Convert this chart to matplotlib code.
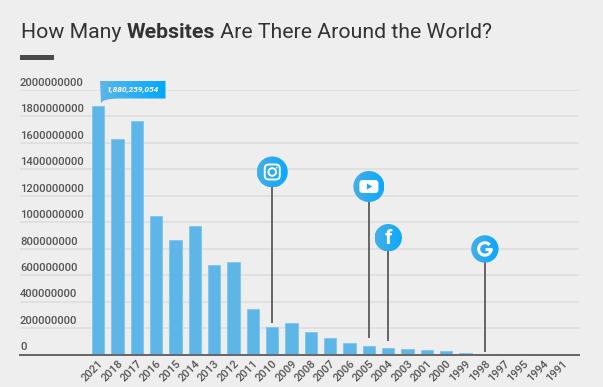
import matplotlib
matplotlib.use("Agg")
import matplotlib.pyplot as plt
import numpy as np
from matplotlib.colors import LinearSegmentedColormap
from matplotlib.patches import Circle, FancyBboxPatch, PathPatch, Polygon, Rectangle
from matplotlib.path import Path

# ================== data ==================
years = ["2021", "2018", "2017", "2016", "2015", "2014", "2013", "2012", "2011", "2010",
         "2009", "2008", "2007", "2006", "2005", "2004", "2003", "2001", "2000", "1999",
         "1998", "1997", "1995", "1994", "1991"]
websites = [1880259054, 1630000000, 1767000000, 1045000000, 863000000, 968000000,
            673000000, 697000000, 346000000, 207000000, 238000000, 172000000,
            121000000, 85500000, 64800000, 51600000, 41600000, 32000000,
            24000000, 8000000, 2400000, 1100000, 23500, 2700, 1]
y_ticks = [0, 200000000, 400000000, 600000000, 800000000, 1000000000,
           1200000000, 1400000000, 1600000000, 1800000000, 2000000000]
callout_label = "1,880,259,054"
title_parts = [("How Many ", "normal"), ("Websites", "bold"), (" Are There Around the World?", "normal")]

pin_years = ["2010", "2005", "2004", "1998"]
pin_heads = [1380000000, 1270000000, 883000000, 798000000]
pin_feet = [238000000, 127000000, 102000000, 19000000]
pin_names = ["instagram", "youtube", "facebook", "google"]

W, H = 603, 387
BG = "#eeeeee"
TEXT = "#555555"
plt.rcParams["font.family"] = ["Roboto", "DejaVu Sans"]

fig = plt.figure(figsize=(W / 100, H / 100), dpi=100, facecolor=BG)

# bar axes, 20..579 px wide, 90..354.5 px down
ax = fig.add_axes([20 / W, 1 - 354.5 / H, 559 / W, 264.5 / H], facecolor="none")
xpos = np.arange(len(years))
ax.bar(xpos, websites, width=0.636, color="#5eb6e8", edgecolor="#7cc6ef", linewidth=0.6, zorder=3)
ax.set_xlim(-4.05, 24.87)
ax.set_ylim(0, 2000000000)
ax.set_xticks(xpos)
ax.set_xticklabels(years, rotation=45, ha="right", va="top", rotation_mode="anchor",
                   fontsize=8, color=TEXT, fontweight="medium")
ax.tick_params(axis="x", length=0, pad=3)
ax.tick_params(axis="y", length=0, labelleft=False)
ax.set_yticks(y_ticks)
ax.grid(axis="y", color="#dedede", linewidth=1.2, zorder=1)
for side in ["top", "left", "right"]:
    ax.spines[side].set_visible(False)
ax.spines["bottom"].set_color("#666666")
ax.spines["bottom"].set_linewidth(1.4)
ax.spines["bottom"].set_zorder(4)

# labels sit on top of their gridlines, flush left
trans = ax.get_yaxis_transform()
for v in y_ticks:
    ax.text(0, v + 16000000, str(v), transform=trans, ha="left", va="bottom", fontsize=8.1,
            color=TEXT, fontweight="medium")

# pins
for yr, head, foot in zip(pin_years, pin_heads, pin_feet):
    ax.plot([years.index(yr)] * 2, [foot, head], color="#5a5a5a", linewidth=1.3, zorder=5,
            solid_capstyle="butt")

# overlay in pixel coordinates for decorations
ov = fig.add_axes([0, 0, 1, 1], facecolor="none")
ov.axis("off")
ov.set_xlim(0, W)
ov.set_ylim(H, 0)
ov.set_autoscale_on(False)
cmap_pin = LinearSegmentedColormap.from_list("pin", ["#45aee6", "#0aa8ff"])
cmap_tag = LinearSegmentedColormap.from_list("tag", ["#5cb6e8", "#00a8ff"])
ramp = np.linspace(0, 1, 64).reshape(1, -1)


def gradient(patch, cmap, x0, x1, y0, y1, z=6):
    ov.add_patch(patch)
    patch.set_facecolor("none")
    patch.set_edgecolor("none")
    im = ov.imshow(ramp, cmap=cmap, extent=[x0, x1, y1, y0], aspect="auto", zorder=z)
    im.set_clip_path(patch)


def to_px(x, y):
    px, py = ax.transData.transform((x, y))
    return px, H - py


# title, words placed one after the other
fig.canvas.draw()
rend = fig.canvas.get_renderer()
tx = 21
for part, weight in title_parts:
    t = ov.text(tx, 37.5, part.replace(" ", "\u00a0"), fontsize=15.3, fontweight=weight, color="#333333",
                family=["Roboto"], ha="left", va="baseline")
    tx = t.get_window_extent(rend).x1
ov.add_patch(Rectangle((20, 55.3), 34, 4.5, facecolor="#4a4a4a", edgecolor="none"))

# callout tag over the first bar
verts = [(100, 81), (165.5, 81), (165.5, 98.5), (122, 98.5), (108, 98.5), (102, 100), (101, 103.5), (100, 81), (100, 81)]
codes = [Path.MOVETO, Path.LINETO, Path.LINETO, Path.LINETO, Path.CURVE4, Path.CURVE4, Path.CURVE4, Path.LINETO, Path.CLOSEPOLY]
gradient(PathPatch(Path(verts, codes)), cmap_tag, 100, 165.5, 81, 104)
ov.text(132.5, 89.8, callout_label, fontsize=6, color="white", fontweight="bold", fontstyle="italic",
        ha="center", va="center", zorder=8)

# pin heads and their glyphs
for yr, head, name in zip(pin_years, pin_heads, pin_names):
    cx, cy = to_px(years.index(yr), head)
    r = 15.5 if name in ("instagram", "youtube") else 13.7
    gradient(Circle((cx, cy), r), cmap_pin, cx - r, cx + r, cy - r, cy + r)
    if name == "instagram":
        ov.add_patch(FancyBboxPatch((cx - 7.5, cy - 7.5), 15, 15, boxstyle="round,pad=0,rounding_size=4",
                                    facecolor="none", edgecolor="white", linewidth=1.4, zorder=8))
        ov.add_patch(Circle((cx, cy), 3.8, facecolor="none", edgecolor="white", linewidth=1.4, zorder=8))
        ov.add_patch(Circle((cx + 4.4, cy - 4.4), 0.9, facecolor="white", edgecolor="none", zorder=8))
    elif name == "youtube":
        ov.add_patch(FancyBboxPatch((cx - 9.5, cy - 6.5), 19, 13, boxstyle="round,pad=0,rounding_size=3",
                                    facecolor="white", edgecolor="none", zorder=8))
        ov.add_patch(Polygon([(cx - 2, cy - 3), (cx + 3.5, cy), (cx - 2, cy + 3)], facecolor="#1ea9f2",
                             edgecolor="none", zorder=9))
    elif name == "facebook":
        ov.text(cx, cy + 0.5, "f", fontsize=15, color="white", fontweight="bold", ha="center", va="center", zorder=8)
    else:
        a = np.radians(np.linspace(40, 360, 40))
        ov.plot(cx + 6.2 * np.cos(a), cy - 6.2 * np.sin(a), color="white", linewidth=2.2, zorder=8,
                solid_capstyle="butt")
        ov.plot([cx + 0.5, cx + 7], [cy, cy], color="white", linewidth=2.2, zorder=8, solid_capstyle="butt")

fig.savefig("out.png", dpi=100, facecolor=BG)
